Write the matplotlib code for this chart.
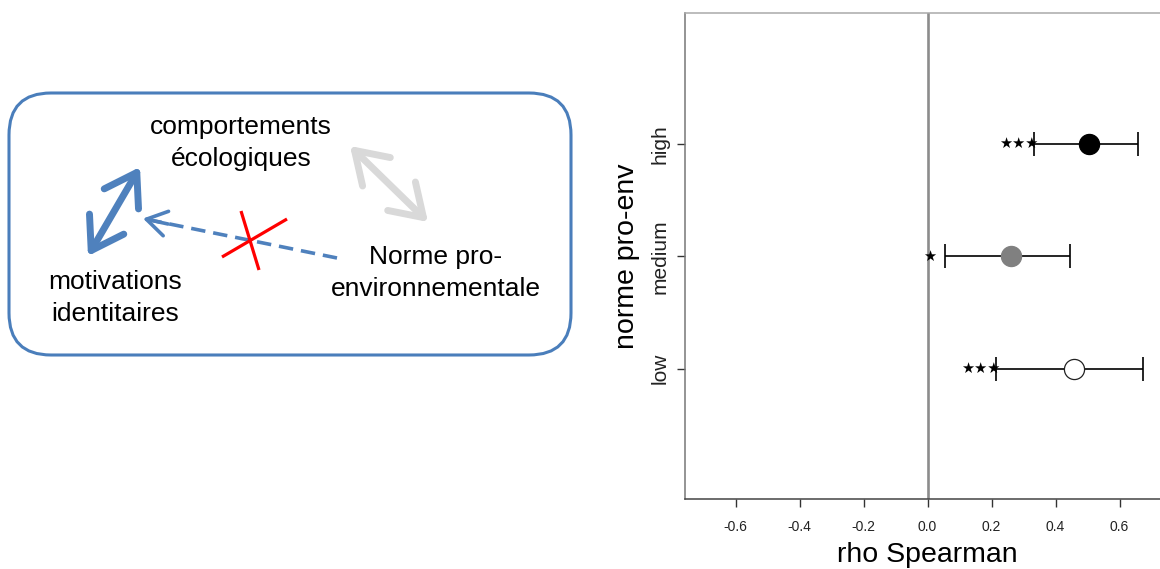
import matplotlib
matplotlib.use("Agg")
import matplotlib.pyplot as plt
from matplotlib.patches import FancyBboxPatch, FancyArrowPatch

# ------------------------------
# données (rho de Spearman + IC)
# ------------------------------
groups = ["low", "medium", "high"]
rho = [0.459, 0.261, 0.506]
ci_low = [0.215, 0.056, 0.334]
ci_high = [0.673, 0.444, 0.658]
stars = ["★★★", "★", "★★★"]
point_face = ["white", "#808080", "black"]
point_edge = ["#222222", "#808080", "black"]
xticks = [-0.6, -0.4, -0.2, 0.0, 0.2, 0.4, 0.6]

# schéma (gauche)
label_comport = "comportements\nécologiques"
label_motiv = "motivations\nidentitaires"
label_norme = "Norme pro-\nenvironnementale"

BLUE = "#4F81BD"
GREY = "#D9D9D9"
FONT = "Liberation Sans"

fig = plt.figure(figsize=(11.6, 5.69), dpi=100)

# ==============================
# 1. schéma en coordonnées pixels
# ==============================
ax0 = fig.add_axes([0, 0, 1, 1])
ax0.set_xlim(0, 1160)
ax0.set_ylim(569, 0)
ax0.axis("off")

box = FancyBboxPatch((9, 93), 562, 262, boxstyle="round,pad=0,rounding_size=42",
                     fc="white", ec="#4A7EBB", lw=2.2)
ax0.add_patch(box)

ax0.text(241, 143, label_comport, ha="center", va="center", fontsize=19,
         family=FONT, linespacing=1.38)
ax0.text(115, 298, label_motiv, ha="center", va="center", fontsize=19,
         family=FONT, linespacing=1.45)
ax0.text(436, 273, label_norme, ha="center", va="center", fontsize=19,
         family=FONT, linespacing=1.45)

# double flèche bleue
ax0.add_patch(FancyArrowPatch((88, 256), (140, 167),
                              arrowstyle="<->,head_length=1.0,head_width=0.65",
                              mutation_scale=22, lw=5, color=BLUE,
                              shrinkA=0, shrinkB=0, capstyle="round", joinstyle="round"))
# double flèche grise
ax0.add_patch(FancyArrowPatch((350, 146), (428, 222),
                              arrowstyle="<->,head_length=1.0,head_width=0.65",
                              mutation_scale=22, lw=5, color=GREY,
                              shrinkA=0, shrinkB=0, capstyle="round", joinstyle="round"))
# flèche pointillée
ax0.plot([337, 150], [258, 220], color=BLUE, lw=2.6, ls=(0, (4, 2.2)))
ax0.add_patch(FancyArrowPatch((168, 224), (143, 218.5),
                              arrowstyle="->,head_length=0.8,head_width=0.5",
                              mutation_scale=18, lw=2.6, color=BLUE,
                              shrinkA=0, shrinkB=0))
# croix rouge
ax0.plot([222, 287], [257, 219], color="red", lw=2.3, solid_capstyle="butt")
ax0.plot([241, 259], [211, 270], color="red", lw=2.3, solid_capstyle="butt")

# ==============================
# 2. graphique rho Spearman
# ==============================
x0 = -0.758
x1 = 0.758
ax = fig.add_axes([685 / 1160, 1 - 499.3 / 569, (x1 - x0) * 320 / 1160, 486 / 569])
ax.set_xlim(x0, x1)
ax.set_ylim(-0.16, 4.16)

ax.axvline(0, color="#8c8c8c", lw=1.9, zorder=1)

ypos = list(range(1, len(groups) + 1))
for i, y in enumerate(ypos):
    ax.errorbar(rho[i], y, xerr=[[rho[i] - ci_low[i]], [ci_high[i] - rho[i]]],
                fmt="none", ecolor="black", elinewidth=1.2, capsize=8.3,
                capthick=1.2, zorder=2)
    ax.plot(rho[i], y, "o", ms=14.5, mfc=point_face[i], mec=point_edge[i],
            mew=0.9, zorder=3)
    ax.text(ci_low[i] - 0.05, y, stars[i], ha="center", va="center",
            fontsize=10.5, family="DejaVu Sans", zorder=4)

ax.set_xticks(xticks)
ax.set_xticklabels([f"{v:.1f}" for v in xticks], fontsize=10, family=FONT)
ax.set_yticks(ypos)
ax.set_yticklabels(groups, rotation=90, va="center", fontsize=15, family=FONT)
ax.tick_params(axis="both", direction="out", length=6, width=1, colors="#333333")
ax.tick_params(axis="x", pad=9, labelcolor="#222222")
ax.tick_params(axis="y", pad=5, labelcolor="#222222")

ax.set_xlabel("rho Spearman", fontsize=20.5, family=FONT, labelpad=6)
ax.set_ylabel("norme pro-env", fontsize=20.5, family=FONT, labelpad=8)

ax.spines["top"].set_color("#aaaaaa")
ax.spines["left"].set_color("#777777")
ax.spines["bottom"].set_color("#444444")
ax.spines["right"].set_visible(False)
for s in ["top", "left", "bottom"]:
    ax.spines[s].set_linewidth(1.1)

fig.savefig("out.png", dpi=100)
